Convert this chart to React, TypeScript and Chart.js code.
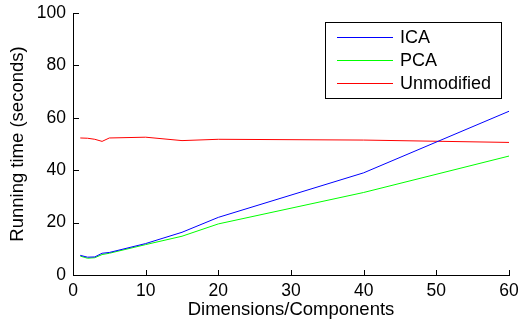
import React, { useEffect, useRef } from "react";
import { Chart, registerables } from "chart.js";

Chart.register(...registerables);

const dims = [1, 2, 3, 4, 5, 10, 15, 20, 40, 60];
const ica = [7.5, 6.8, 6.9, 8.3, 8.6, 12.0, 16.3, 22.0, 39.0, 62.5];
const pca = [7.2, 6.4, 6.6, 7.8, 8.3, 11.6, 14.8, 19.5, 31.5, 45.4];
const unmodified = [52.3, 52.2, 51.8, 51.0, 52.3, 52.6, 51.3, 51.8, 51.5, 50.6];
const seriesLabels = ["ICA", "PCA", "Unmodified"];
const seriesColors = ["#0000ff", "#00ff00", "#ff0000"];
const xTicks = [0, 10, 20, 30, 40, 50, 60];
const yTicks = [0, 20, 40, 60, 80, 100];

const FONT = "'Liberation Sans', Arial, Helvetica, sans-serif";

const axesPlugin = {
  id: "matlabAxes",
  afterDraw(chart: any) {
    const { ctx, chartArea, scales } = chart;
    const { left, bottom, top, right } = chartArea;
    ctx.save();
    ctx.fillStyle = "#000";
    ctx.fillRect(Math.round(left), Math.round(top), 1, Math.round(bottom - top) + 1);
    ctx.fillRect(Math.round(left), Math.round(bottom), Math.round(right - left) + 1, 1);
    for (const v of xTicks) {
      const x = Math.round(scales.x.getPixelForValue(v));
      ctx.fillRect(x, Math.round(bottom) - 5, 1, 5);
    }
    for (const v of yTicks) {
      const y = Math.round(scales.y.getPixelForValue(v));
      ctx.fillRect(Math.round(left), y, 6, 1);
    }

    const bx = 325, by = 22, bw = 177, bh = 77;
    ctx.fillStyle = "#fff";
    ctx.fillRect(bx, by, bw, bh);
    ctx.fillStyle = "#000";
    ctx.fillRect(bx, by, bw, 1);
    ctx.fillRect(bx, by + bh - 1, bw, 1);
    ctx.fillRect(bx, by, 1, bh);
    ctx.fillRect(bx + bw - 1, by, 1, bh);
    ctx.font = `18px ${FONT}`;
    ctx.textBaseline = "middle";
    ctx.textAlign = "left";
    seriesLabels.forEach((label, i) => {
      const y = 37 + i * 23;
      ctx.fillStyle = seriesColors[i];
      ctx.fillRect(337, y, 56, 1);
      ctx.fillStyle = "#000";
      ctx.fillText(label, 400, y + 1.5);
    });
    ctx.restore();
  },
};

export default function App() {
  const ref = useRef<HTMLCanvasElement | null>(null);
  useEffect(() => {
    document.body.style.margin = "0";
    const values = [ica, pca, unmodified];
    const chart = new Chart(ref.current as HTMLCanvasElement, {
      type: "line",
      data: {
        datasets: values.map((vals, i) => ({
          label: seriesLabels[i],
          data: dims.map((d, j) => ({ x: d, y: vals[j] })),
          borderColor: seriesColors[i],
          backgroundColor: seriesColors[i],
          borderWidth: 1,
          pointRadius: 0,
          tension: 0,
          fill: false,
        })),
      },
      options: {
        animation: false,
        responsive: false,
        maintainAspectRatio: false,
        layout: { padding: { top: 13, right: 13, left: 0, bottom: 0 } },
        plugins: { legend: { display: false }, tooltip: { enabled: false } },
        scales: {
          x: {
            type: "linear",
            min: 0,
            max: 60,
            afterBuildTicks: (s: any) => {
              s.ticks = xTicks.map((v) => ({ value: v }));
            },
            afterFit: (s: any) => {
              s.height = 52;
              s.paddingLeft = 0;
              s.paddingRight = 0;
            },
            grid: { display: false, drawTicks: false, tickLength: 0 },
            border: { display: false },
            ticks: { color: "#000", font: { size: 17.5, family: FONT }, padding: 6, maxRotation: 0 },
            title: {
              display: true,
              text: "Dimensions/Components",
              color: "#000",
              font: { size: 18.5, family: FONT },
              padding: { top: 0, bottom: 6 },
            },
          },
          y: {
            type: "linear",
            min: 0,
            max: 100,
            afterBuildTicks: (s: any) => {
              s.ticks = yTicks.map((v) => ({ value: v }));
            },
            afterFit: (s: any) => {
              s.width = 73;
              s.paddingTop = 0;
              s.paddingBottom = 0;
            },
            grid: { display: false, drawTicks: false, tickLength: 0 },
            border: { display: false },
            ticks: { color: "#000", font: { size: 17.5, family: FONT }, padding: 7 },
            title: {
              display: true,
              text: "Running time (seconds)",
              color: "#000",
              font: { size: 18.5, family: FONT },
              padding: { top: 7, bottom: 0 },
            },
          },
        },
      },
      plugins: [axesPlugin],
    });
    return () => chart.destroy();
  }, []);
  return (
    <div style={{ position: "absolute", left: 0, top: 0, width: 522, height: 327, background: "#fff" }}>
      <canvas ref={ref} width={522} height={327} />
    </div>
  );
}
